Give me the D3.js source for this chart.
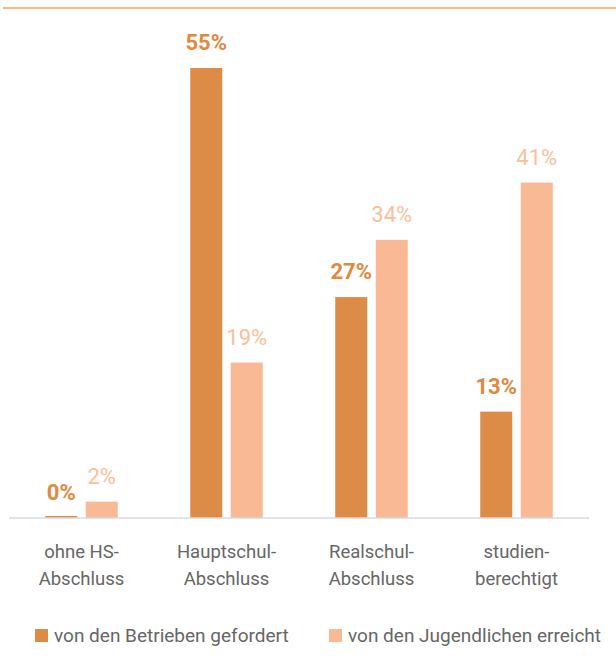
<!DOCTYPE html>
<html>
<head>
<meta charset="utf-8">
<script src="https://cdn.jsdelivr.net/npm/d3@7"></script>
<style>
  body { margin: 0; background: #fff; }
  text { font-family: Roboto, "Liberation Sans", sans-serif; }
</style>
</head>
<body>
<script>
var categories = [["ohne HS-", "Abschluss"], ["Hauptschul-", "Abschluss"], ["Realschul-", "Abschluss"], ["studien-", "berechtigt"]];
var seriesNames = ["von den Betrieben gefordert", "von den Jugendlichen erreicht"];
var gefordert = [0, 55, 27, 13];
var erreicht = [2, 19, 34, 41];

var w = 616;
var h = 656;
var baseY = 518;
var barColors = ["#dd8c48", "#f8b994"];
var labelColors = ["#e0893f", "#f9c09b"];

var svg = d3.select("body")
    .append("svg")
    .attr("width", w)
    .attr("height", h);

// orange rule at the top
svg.append("line")
    .attr("x1", 3).attr("x2", w)
    .attr("y1", 8).attr("y2", 8)
    .attr("stroke", "#f9a350")
    .attr("stroke-width", 1.5);

var xScale = d3.scaleBand()
    .domain(d3.range(categories.length))
    .range([9, 589])
    .paddingInner(0.5)
    .paddingOuter(0.25);

var xSub = d3.scaleBand()
    .domain([0, 1])
    .range([0, xScale.bandwidth()])
    .paddingInner(0.21);

var yScale = d3.scaleLinear()
    .domain([0, 55])
    .range([baseY, 68]);

var rows = categories.map(function(c, i) {
    return { i: i, values: [gefordert[i], erreicht[i]] };
});

var group = svg.selectAll("g.grp")
    .data(rows)
    .enter()
    .append("g")
    .attr("class", "grp")
    .attr("transform", function(d) { return "translate(" + xScale(d.i) + ",0)"; });

var cells = group.selectAll("g.cell")
    .data(function(d) { return d.values.map(function(v, s) { return { v: v, s: s }; }); })
    .enter()
    .append("g")
    .attr("class", "cell");

cells.append("rect")
    .attr("x", function(d) { return xSub(d.s); })
    .attr("width", xSub.bandwidth())
    .attr("y", function(d) { return d.v === 0 ? baseY - 2 : yScale(d.v); })
    .attr("height", function(d) { return d.v === 0 ? 2 : baseY - yScale(d.v); })
    .attr("fill", function(d) { return barColors[d.s]; });

cells.append("text")
    .text(function(d) { return d.v + "%"; })
    .attr("text-anchor", "middle")
    .attr("x", function(d) { return xSub(d.s) + xSub.bandwidth() / 2; })
    .attr("y", function(d) { return yScale(d.v) - 18; })
    .attr("font-size", "22px")
    .attr("font-weight", function(d) { return d.s === 0 ? "bold" : "normal"; })
    .attr("fill", function(d) { return labelColors[d.s]; });

// baseline
svg.append("line")
    .attr("x1", 9).attr("x2", 589)
    .attr("y1", baseY).attr("y2", baseY)
    .attr("stroke", "#d3dbe1")
    .attr("stroke-width", 1.5);

// category labels
var catLabels = svg.selectAll("text.ctgry")
    .data(categories)
    .enter()
    .append("text")
    .attr("class", "ctgry")
    .attr("text-anchor", "middle")
    .attr("font-size", "18.5px")
    .attr("fill", "#666666");

catLabels.selectAll("tspan")
    .data(function(d, i) { return d.map(function(t) { return { t: t, i: i }; }); })
    .enter()
    .append("tspan")
    .attr("x", function(d) { return xScale(d.i) + xScale.bandwidth() / 2; })
    .attr("y", function(d, j) { return 558 + j * 27; })
    .text(function(d) { return d.t; });

// legend
var legendX = [35, 329];
var legendItems = svg.selectAll(".legend-item")
    .data(seriesNames)
    .enter()
    .append("g")
    .attr("class", "legend-item")
    .attr("transform", function(d, i) { return "translate(" + legendX[i] + ",629)"; });

legendItems.append("rect")
    .attr("width", 13)
    .attr("height", 13)
    .attr("fill", function(d, i) { return barColors[i]; });

legendItems.append("text")
    .attr("x", 19)
    .attr("y", 13)
    .attr("font-size", "19px")
    .attr("fill", "#666666")
    .text(function(d) { return d; });
</script>
</body>
</html>
